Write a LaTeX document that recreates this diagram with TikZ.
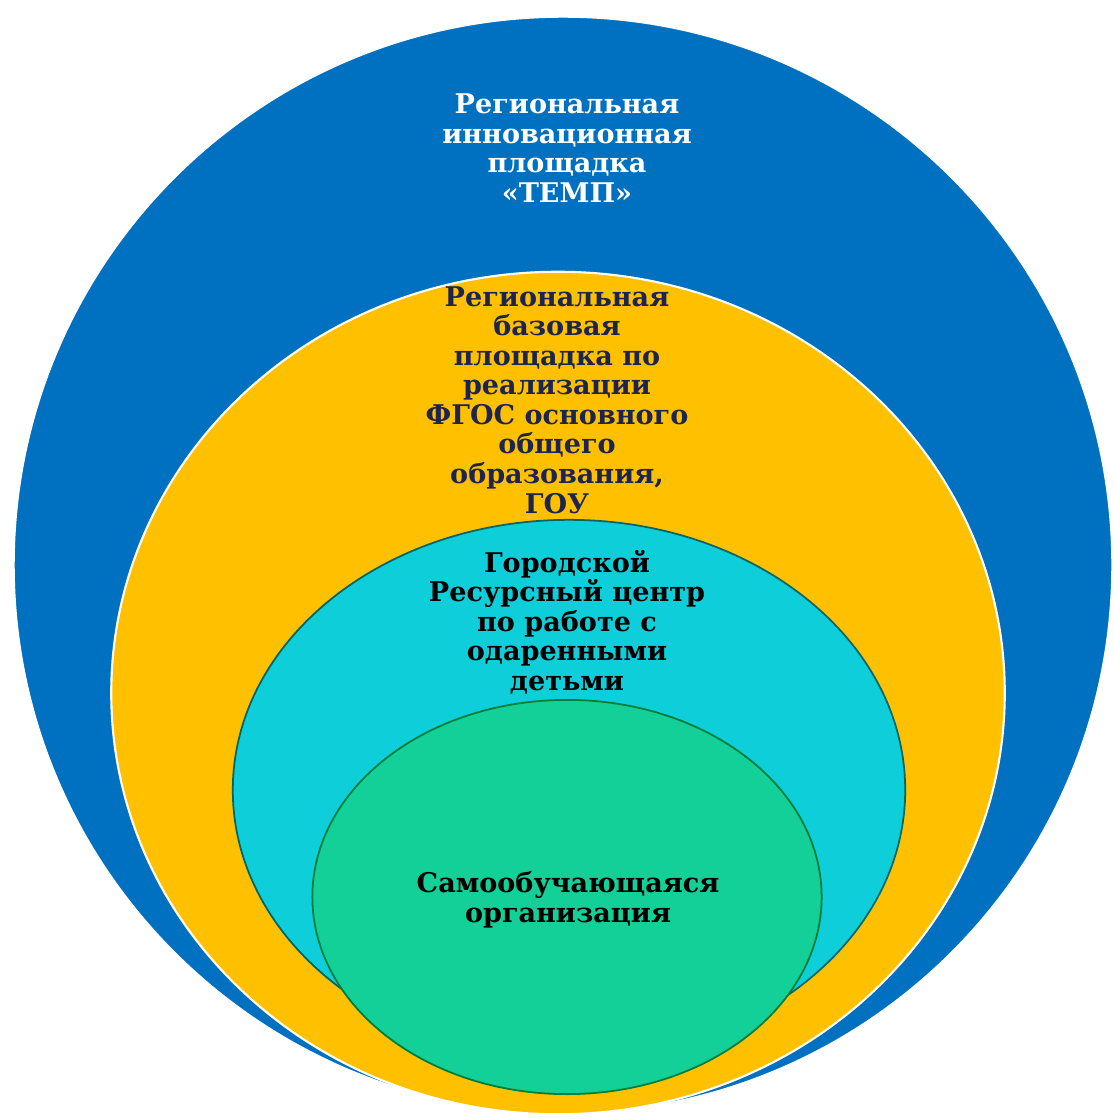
\documentclass[tikz,border=0pt]{standalone}
\usepackage{fontspec}
\setmainfont{DejaVu Serif}
\usetikzlibrary{shapes.geometric}
\definecolor{tempblue}{RGB}{0,112,192}
\definecolor{baseyellow}{RGB}{255,192,0}
\definecolor{centrecyan}{RGB}{14,207,217}
\definecolor{coregreen}{RGB}{19,207,152}
\definecolor{navytext}{RGB}{28,36,80}

\begin{document}
\begin{tikzpicture}[
    x=0.01cm, y=-0.01cm,
    zone/.style={ellipse,inner sep=0pt},
    ztext/.style={align=center,inner sep=0pt,font=\bfseries\fontsize{7.7}{8.4}\selectfont}
]
    \useasboundingbox (0,0) rectangle (1114,1119);

    \node[zone,fill=tempblue,draw=white,line width=0.6pt,minimum width=10.98cm,minimum height=10.96cm] (temp) at (563,565) {};
    \node[zone,fill=baseyellow,draw=white,line width=0.6pt,minimum width=8.93cm,minimum height=8.42cm] (base) at (558,693) {};
    \node[zone,fill=centrecyan,draw=teal!80!black,line width=0.5pt,minimum width=6.72cm,minimum height=5.4cm] (centre) at (569,790) {};
    \node[zone,fill=coregreen,draw=green!40!teal!70!black,line width=0.5pt,minimum width=5.09cm,minimum height=3.94cm] (core) at (567,897) {};

    \node[ztext,text=white] (temptext) at (567,148) {Региональная\\инновационная\\площадка\\«ТЕМП»};
    \node[ztext,text=navytext] (basetext) at (557,400) {Региональная\\базовая\\площадка по\\реализации\\ФГОС основного\\общего\\образования,\\ГОУ};
    \node[ztext,text=black] (centretext) at (567,622) {Городской\\Ресурсный центр\\по работе с\\одаренными\\детьми};
    \node[ztext,text=black] (coretext) at (568,900) {Самообучающаяся\\организация};
\end{tikzpicture}
\end{document}
